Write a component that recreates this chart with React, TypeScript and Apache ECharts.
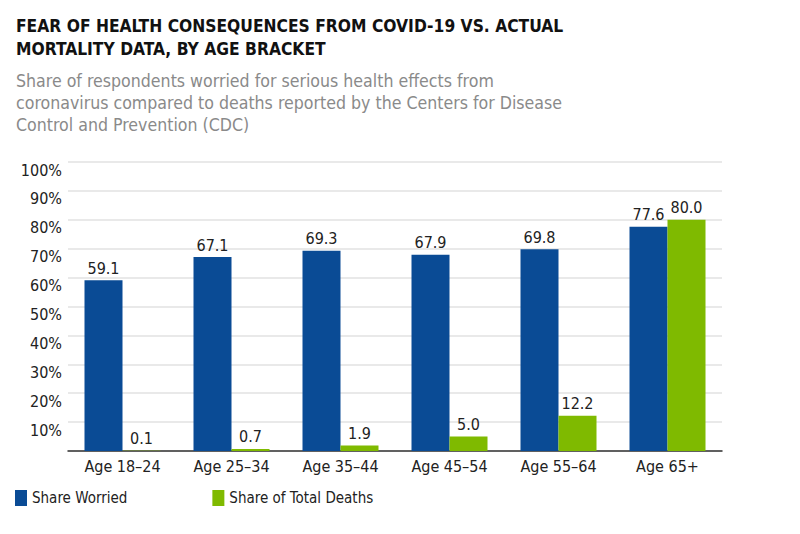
import * as echarts from "echarts"
import { useEffect, useRef } from "react"

const ageBrackets = ["Age 18–24", "Age 25–34", "Age 35–44", "Age 45–54", "Age 55–64", "Age 65+"]
const shareWorried = [59.1, 67.1, 69.3, 67.9, 69.8, 77.6]
const shareOfDeaths = [0.1, 0.7, 1.9, 5.0, 12.2, 80.0]
const seriesNames = ["Share Worried", "Share of Total Deaths"]

const titleText = "FEAR OF HEALTH CONSEQUENCES FROM COVID-19 VS. ACTUAL\nMORTALITY DATA, BY AGE BRACKET"
const subtitleText =
  "Share of respondents worried for serious health effects from\ncoronavirus compared to deaths reported by the Centers for Disease\nControl and Prevention (CDC)"

const FONT = "'DejaVu Sans Condensed', 'DejaVu Sans', sans-serif"
const BLUE = "#0a4b95"
const GREEN = "#7fba00"

export default function App() {
  const ref = useRef<HTMLDivElement>(null)

  useEffect(() => {
    if (!ref.current) return
    const chart = echarts.init(ref.current, null, { renderer: "svg" })

    const label = {
      show: true,
      position: "top" as const,
      distance: 4,
      color: "#222",
      fontFamily: FONT,
      fontSize: 16,
      formatter: (p: { value: number }) => p.value.toFixed(1),
    }

    chart.setOption({
      animation: false,
      backgroundColor: "#fff",
      textStyle: { fontFamily: FONT },
      title: [
        {
          text: titleText,
          left: 8,
          top: 6,
          padding: 0,
          textStyle: { fontFamily: FONT, fontWeight: "bold", fontSize: 17.3, lineHeight: 23.5, color: "#111" },
        },
        {
          text: subtitleText,
          left: 8,
          top: 62,
          padding: 0,
          textStyle: { fontFamily: FONT, fontWeight: "normal", fontSize: 17.6, lineHeight: 22, color: "#8a8a8a" },
        },
      ],
      legend: {
        left: 7,
        top: 482,
        padding: 0,
        icon: "rect",
        itemWidth: 12,
        itemHeight: 16,
        itemGap: 85,
        selectedMode: false,
        textStyle: { fontFamily: FONT, fontSize: 15, color: "#222" },
        data: seriesNames,
      },
      grid: { left: 60, right: 70, top: 154, bottom: 75, containLabel: false },
      xAxis: {
        type: "category",
        data: ageBrackets,
        axisTick: { show: false },
        axisLine: { lineStyle: { color: "#333", width: 1.5 } },
        axisLabel: { color: "#222", fontFamily: FONT, fontSize: 16, margin: 7 },
      },
      yAxis: {
        type: "value",
        min: 0,
        max: 100,
        interval: 10,
        axisLine: { show: false },
        axisTick: { show: false },
        splitLine: { lineStyle: { color: "#e2e2e2", width: 1.5 } },
        axisLabel: {
          color: "#222",
          fontFamily: FONT,
          fontSize: 16,
          margin: 6,
          verticalAlign: "top",
          formatter: (v: number) => (v === 0 ? "" : `${v}%`),
        },
      },
      series: [
        {
          name: seriesNames[0],
          type: "bar",
          data: shareWorried,
          barWidth: 38,
          barGap: "0%",
          itemStyle: { color: BLUE },
          label,
        },
        {
          name: seriesNames[1],
          type: "bar",
          data: shareOfDeaths,
          barWidth: 38,
          itemStyle: { color: GREEN },
          label,
        },
      ],
    })

    return () => {
      chart.dispose()
    }
  }, [])

  return <div ref={ref} style={{ width: 784, height: 518 }} />
}
